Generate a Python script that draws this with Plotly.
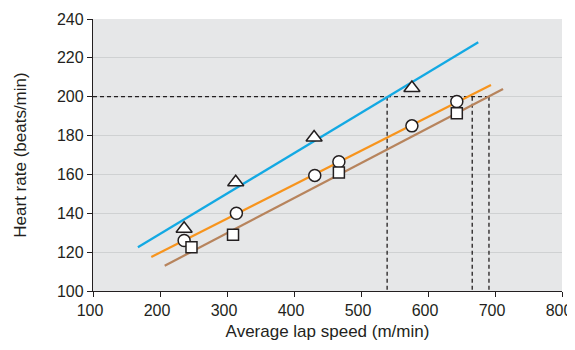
import plotly.graph_objects as go

# ---- data ----
tri_speed = [236, 313, 430, 576]
tri_hr = [132, 156, 179, 204.5]
circ_speed = [236, 314, 431, 467, 576, 643]
circ_hr = [126, 140, 159.5, 166.5, 185, 197.5]
sq_speed = [247, 309, 467, 643]
sq_hr = [122.5, 129, 161, 191.5]

blue_speed = [167, 675]
blue_hr = [122.5, 228]
orange_speed = [187, 694]
orange_hr = [117.5, 206]
brown_speed = [207, 712]
brown_hr = [113, 204]

hr_target = 200
intercept_speeds = [539, 666, 691]

x_ticks = [100, 200, 300, 400, 500, 600, 700, 800]
y_ticks = [100, 120, 140, 160, 180, 200, 220, 240]

FONT = "Liberation Sans, Arial, sans-serif"
INK = "#231f20"

fig = go.Figure()

# dashed guide lines
dash_style = dict(color=INK, width=1.3, dash="4px,3px")
fig.add_trace(go.Scatter(x=[x_ticks[0], max(intercept_speeds)], y=[hr_target, hr_target],
                         mode="lines", line=dash_style, hoverinfo="skip", showlegend=False))
for s in intercept_speeds:
    fig.add_trace(go.Scatter(x=[s, s], y=[hr_target, y_ticks[0]], mode="lines",
                             line=dash_style, hoverinfo="skip", showlegend=False))

# regression lines
for xs, ys, col in [(blue_speed, blue_hr, "#13a9e3"),
                    (orange_speed, orange_hr, "#f7941d"),
                    (brown_speed, brown_hr, "#b7845d")]:
    fig.add_trace(go.Scatter(x=xs, y=ys, mode="lines", line=dict(color=col, width=2.2),
                             showlegend=False))

mk_line = dict(color=INK, width=1.5)
fig.add_trace(go.Scatter(x=tri_speed, y=tri_hr, mode="markers",
                         marker=dict(symbol="triangle-up", size=14, color="white", line=mk_line),
                         showlegend=False))
fig.add_trace(go.Scatter(x=circ_speed, y=circ_hr, mode="markers",
                         marker=dict(symbol="circle", size=12, color="white", line=mk_line),
                         showlegend=False))
fig.add_trace(go.Scatter(x=sq_speed, y=sq_hr, mode="markers",
                         marker=dict(symbol="square", size=11, color="white", line=mk_line),
                         showlegend=False))

axis_common = dict(showline=True, linecolor=INK, linewidth=1.3, ticks="outside",
                   ticklen=5, tickwidth=1.2, tickcolor=INK, zeroline=False,
                   automargin=False, ticklabeloverflow="allow",
                   tickfont=dict(family=FONT, size=16, color=INK),
                   title_font=dict(family=FONT, size=17, color=INK))

fig.update_layout(
    width=567, height=342,
    margin=dict(l=85, r=13, t=11, b=59),
    paper_bgcolor="white", plot_bgcolor="#e6e7e8",
    xaxis=dict(range=[100, 800], tickvals=x_ticks, showgrid=False, ticklabelshift=-3,
               title=dict(text="Average lap speed (m/min)", standoff=6), **axis_common),
    yaxis=dict(range=[100, 240], tickvals=y_ticks, showgrid=True, gridcolor="#cfd1d2",
               gridwidth=1.2, title=dict(text="Heart rate (beats/min)", standoff=25),
               **axis_common),
)

fig.write_html("out.html")
